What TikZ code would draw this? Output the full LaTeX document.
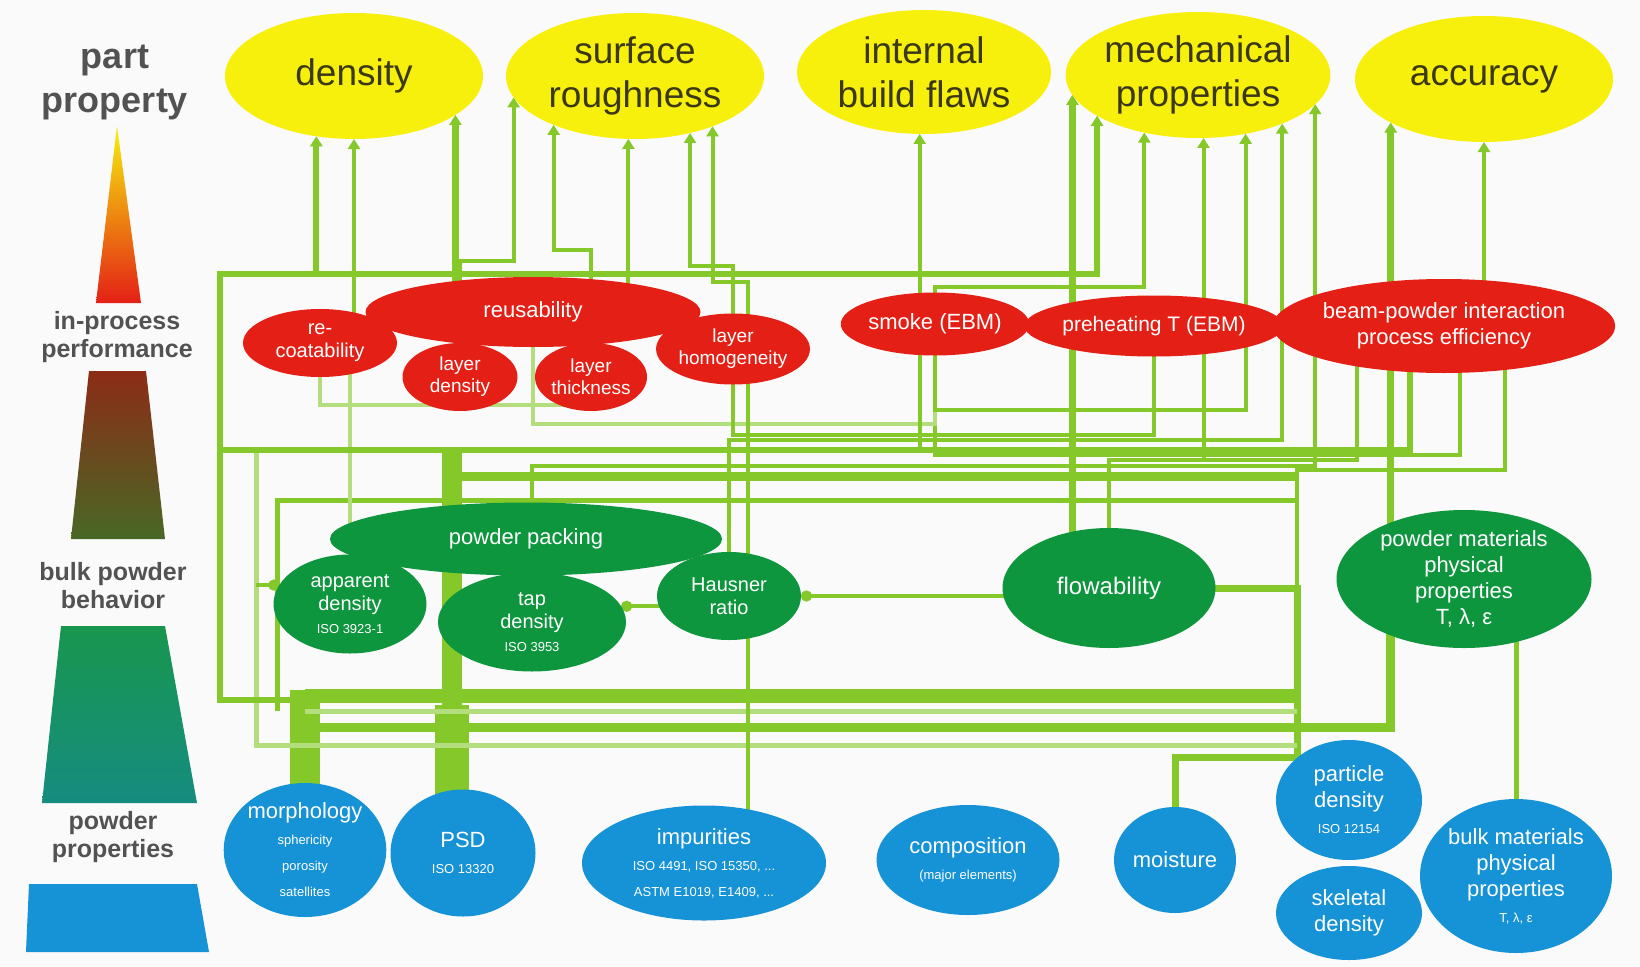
\documentclass[tikz,border=0pt]{standalone}
\usepackage{fontspec}
\setmainfont{Liberation Sans}
\usetikzlibrary{shapes.geometric,arrows.meta}
\definecolor{partyellow}{RGB}{247,240,12}
\definecolor{procred}{RGB}{228,32,22}
\definecolor{bulkgreen}{RGB}{14,150,62}
\definecolor{powderblue}{RGB}{22,146,214}
\definecolor{linkgreen}{RGB}{132,200,42}
\definecolor{palegreen}{RGB}{180,222,125}
\definecolor{inkgray}{RGB}{82,82,82}
\definecolor{inkolive}{RGB}{58,56,22}
\definecolor{tierbrown}{RGB}{140,44,22}
\definecolor{tierolive}{RGB}{72,104,38}
\definecolor{tiergreen}{RGB}{24,150,78}
\definecolor{tierteal}{RGB}{22,140,128}
\definecolor{paper}{RGB}{250,250,250}
\pgfdeclarelayer{paper}
\pgfdeclarelayer{wires}
\pgfsetlayers{paper,wires,main}
\newcommand{\subline}[1]{{\fontsize{13}{15}\selectfont #1}}
\tikzset{
  blob/.style={ellipse, inner sep=0pt, outer sep=0pt, align=center},
  prop/.style={blob, fill=partyellow, text=inkolive, minimum width=258pt, minimum height=126pt,
    font=\fontsize{37}{44}\selectfont},
  proc/.style={blob, fill=procred, text=white, font=\fontsize{22}{26}\selectfont},
  bulk/.style={blob, fill=bulkgreen, text=white, font=\fontsize{22}{26}\selectfont},
  pwd/.style={blob, fill=powderblue, text=white, font=\fontsize{22}{26}\selectfont},
  tier/.style={align=center, text=inkgray, font=\bfseries\fontsize{25}{28}\selectfont},
  link/.style={draw=linkgreen, line width=4pt},
  pale/.style={draw=palegreen, line width=4pt},
  up/.style={-{Triangle[length=10pt,width=12pt]}},
  dot/.style={-{Circle[length=11pt]}}
}

\begin{document}
\begin{tikzpicture}[x=1pt,y=-1pt]
\useasboundingbox (0,0) rectangle (1640,966);
\begin{pgfonlayer}{paper}
  \fill[paper] (0,0) rectangle (1640,966);
\end{pgfonlayer}

% tiers on the left
\node[tier, font=\bfseries\fontsize{36}{44}\selectfont] (lgpart) at (115,82) {part\\property};
\node[tier] (lgproc) at (117,337) {in-process\\performance};
\node[tier] (lgbulk) at (113,586) {bulk powder\\behavior};
\node[tier] (lgpowder) at (113,837) {powder\\properties};
\shade[top color=partyellow, middle color=orange, bottom color=procred]
  (117,126) -- (141,303) -- (96,303) -- cycle;
\shade[top color=tierbrown, bottom color=tierolive]
  (89,371) -- (146,371) -- (165,539) -- (71,539) -- cycle;
\shade[top color=tiergreen, bottom color=tierteal]
  (61,626) -- (165,626) -- (197,803) -- (42,803) -- cycle;
\fill[powderblue] (29,884) -- (197,884) -- (209,952) -- (26,952) -- cycle;

% part properties
\node[prop] (density) at (354,76) {density};
\node[prop] (rough) at (635,76) {surface\\roughness};
\node[prop, minimum width=254pt, minimum height=124pt] (flaws) at (924,72) {internal\\build flaws};
\node[prop] (mech) at (1198,75) {mechanical\\properties};
\node[prop] (acc) at (1484,79) {accuracy};

% in-process performance
\node[proc, minimum width=335pt, minimum height=70pt] (reuse) at (533,312) {reusability};
\node[proc, minimum width=154pt, minimum height=68pt, font=\fontsize{20}{23}\selectfont] (recoat) at (320,343) {re-\\coatability};
\node[proc, minimum width=115pt, minimum height=68pt, font=\fontsize{19}{22}\selectfont] (laydens) at (460,377) {layer\\density};
\node[proc, minimum width=111pt, minimum height=68pt, font=\fontsize{19}{22}\selectfont] (laythick) at (591,377) {layer\\thickness};
\node[proc, minimum width=151pt, minimum height=71pt, font=\fontsize{19}{22}\selectfont] (layhomog) at (733,349) {layer\\homogeneity};
\node[proc, minimum width=170pt, minimum height=63pt] (smoke) at (935,324) {smoke (EBM)};
\node[proc, minimum width=230pt, minimum height=61pt, font=\fontsize{21}{25}\selectfont] (preheat) at (1154,326) {preheating T (EBM)};
\node[proc, minimum width=318pt, minimum height=94pt] (beam) at (1444,326) {beam-powder interaction\\process efficiency};

% bulk powder behaviour
\node[bulk, minimum width=392pt, minimum height=73pt] (packing) at (526,539) {powder packing};
\node[bulk, minimum width=153pt, minimum height=99pt, font=\fontsize{20}{23}\selectfont] (appdens) at (350,604) {apparent\\density\\\subline{ISO 3923-1}};
\node[bulk, minimum width=188pt, minimum height=99pt, font=\fontsize{20}{23}\selectfont] (tapdens) at (532,622) {tap\\density\\\subline{ISO 3953}};
\node[bulk, minimum width=144pt, minimum height=88pt, font=\fontsize{20}{23}\selectfont] (hausner) at (729,596) {Hausner\\ratio};
\node[bulk, minimum width=213pt, minimum height=120pt, font=\fontsize{24}{28}\selectfont] (flow) at (1109,588) {flowability};
\node[bulk, minimum width=255pt, minimum height=138pt] (pmat) at (1464,579) {powder materials\\physical\\properties\\T, λ, ε};

% powder properties
\node[pwd, minimum width=154pt, minimum height=134pt] (morph) at (305,850) {morphology\\\subline{sphericity}\\\subline{porosity}\\\subline{satellites}};
\node[pwd, minimum width=145pt, minimum height=127pt] (psd) at (463,853) {PSD\\\subline{ISO 13320}};
\node[pwd, minimum width=244pt, minimum height=115pt] (impur) at (704,863) {impurities\\\subline{ISO 4491, ISO 15350, ...}\\\subline{ASTM E1019, E1409, ...}};
\node[pwd, minimum width=183pt, minimum height=110pt] (comp) at (968,860) {composition\\\subline{(major elements)}};
\node[pwd, minimum width=122pt, minimum height=106pt] (moist) at (1175,860) {moisture};
\node[pwd, minimum width=146pt, minimum height=120pt] (partdens) at (1349,800) {particle\\density\\\subline{ISO 12154}};
\node[pwd, minimum width=146pt, minimum height=94pt] (skeldens) at (1349,913) {skeletal\\density};
\node[pwd, minimum width=180pt, minimum height=154pt] (bulkmat) at (1516,876) {bulk materials\\physical\\properties\\\subline{T, λ, ε}};

\coordinate (westbus) at (220,274);
\coordinate (eastbus) at (1297,588);

\begin{pgfonlayer}{wires}
% powder properties -> bulk powder behaviour
\draw[link, line width=30pt] (morph.center) -- (morph.center |- 0,690);
\draw[link, line width=34pt] ([xshift=-11pt]psd.center) -- ([xshift=-11pt]psd.center |- 0,705);
\draw[link, line width=20pt] ([xshift=-11pt]psd.center |- 0,705) -- ([xshift=-11pt]psd.center |- 0,448);
\draw[link, line width=14pt] (morph.center |- 0,696) -- (eastbus |- 0,696);
\draw[link, line width=7pt] (moist.center) |- (eastbus |- 0,757) -- (eastbus) -- (flow.center);
\draw[link, line width=9pt] ([xshift=-11pt]psd.center |- 0,476) -- (eastbus |- 0,476);
\draw[link, line width=9pt] ([xshift=-74pt]pmat.center) |- (morph.center |- 0,727);
\draw[pale, line width=5pt] (morph.center |- 0,711) -- (eastbus |- 0,711);
\draw[pale, line width=5pt] ([xshift=-94pt]appdens.center |- 0,450) |- (eastbus |- 0,745);
\draw[link, line width=5pt] (eastbus |- 0,500) -| ([xshift=-73pt]appdens.center |- 0,711);
\draw[link, dot] ([xshift=-94pt]appdens.center |- appdens.165) -- (appdens.165);
\draw[link, dot] (hausner.center) |- (tapdens.10);
\draw[link, dot] (hausner.0 -| flow.center) -- (hausner.0);
\draw[link, line width=5pt] (bulkmat.center) -- (bulkmat.center |- pmat.center);
\draw[pale] (appdens.center) |- (recoat.center);

% in-process network
\draw[link, line width=6pt] (beam.center -| 1410,0) |- (westbus |- 0,450);
\draw[link] (beam.center -| 1357,0) |- (flow.center |- 0,460) -- (flow.center);
\draw[link] (beam.center -| 1460,0) |- (smoke.center |- 0,455) -- (smoke.center);
\draw[link] (beam.center -| 1505,0) |- (eastbus |- 0,470) -- (eastbus);
\draw[pale] (smoke.center) |- (reuse.center |- 0,424) -- (reuse.center);
\draw[link] (preheat.center) |- (layhomog.center |- 0,435) -- (layhomog.center);
\draw[pale] (recoat.center) |- (laythick.center |- 0,405) -- (laythick.center);

% up to the part properties
\draw[link, line width=6pt, up] ([xshift=-11pt]psd.center |- 0,700) -| (westbus) -| (density.238);
\draw[link, line width=6pt, up] (westbus) -| (mech.202);
\draw[link, up] (density.270 |- recoat.center) -- (density.270);
\draw[link, line width=7pt, up] (density.339 |- reuse.center) -- (density.339);
\draw[link, up] (laydens.center) |- (rough.190 |- 0,261) -- (rough.190);
\draw[link, up] (laythick.center) |- (rough.211 |- 0,250) -- (rough.211);
\draw[link, up] (rough.264 |- reuse.center) -- (rough.264);
\draw[link, up] (layhomog.center) |- (rough.314 |- 0,266) -- (rough.314);
\draw[link, up] ([xshift=44pt]impur.center) |- (rough.327 |- 0,282) -- (rough.327);
\draw[link, up] (flaws.266 |- 0,450) -- (flaws.266);
\draw[link, line width=7pt, up] (mech.189 |- flow.center) -- (mech.189);
\draw[link, up] (smoke.center) |- (mech.227 |- 0,287) -- (mech.227);
\draw[link, up] (mech.275 |- 0,460) -- (mech.275);
\draw[link, up] (smoke.center) |- (mech.309 |- 0,410) -- (mech.309);
\draw[link, up] (hausner.center) |- (mech.330 |- 0,440) -- (mech.330);
\draw[link, up] (tapdens.center) |- (mech.346 |- 0,466) -- (mech.346);
\draw[link, line width=7pt, up] (acc.205 |- pmat.center) -- (acc.205);
\draw[link, up] (acc.270 |- beam.center) -- (acc.270);
\end{pgfonlayer}
\end{tikzpicture}
\end{document}
